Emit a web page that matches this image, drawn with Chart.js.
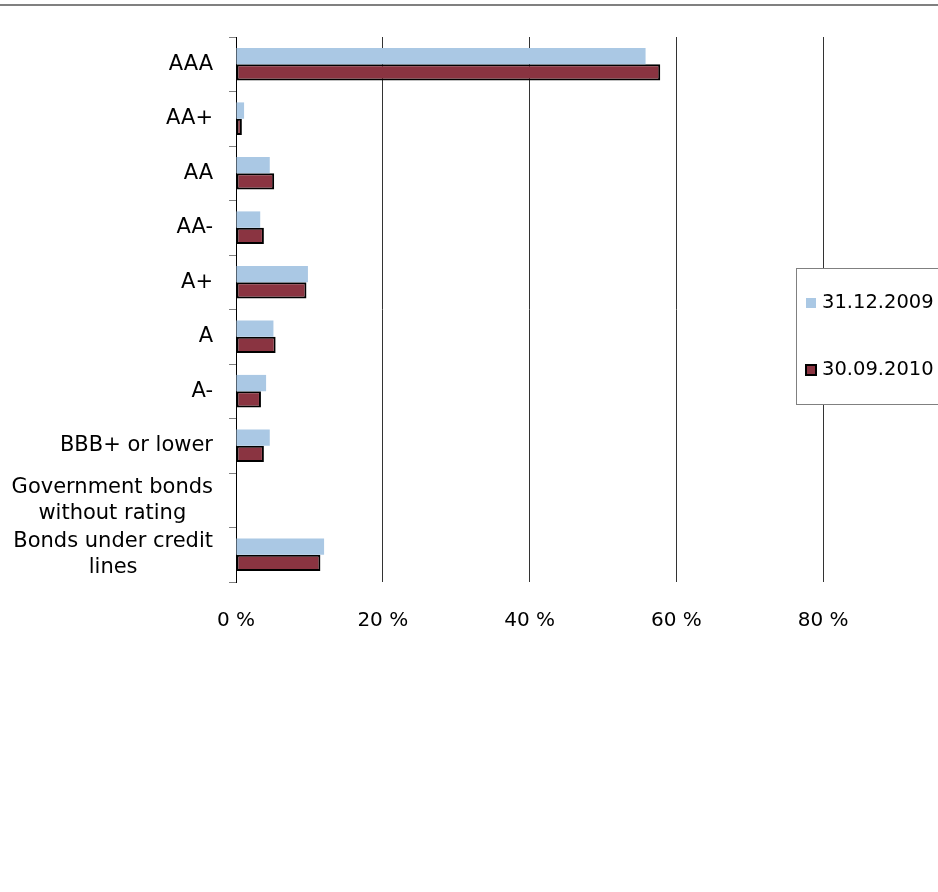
<!DOCTYPE html>
<html><head><meta charset="utf-8">
<script src="https://cdn.jsdelivr.net/npm/chart.js@4"></script>
<style>
html,body{margin:0;padding:0;background:#fff;overflow:hidden;width:938px;height:892px}
#wrap{position:relative;width:1100px;height:892px}
canvas{display:block}
</style>
</head><body><div id="wrap"><canvas id="c" width="1100" height="892"></canvas></div>
<script>
const categories = ['AAA', 'AA+', 'AA', 'AA-', 'A+', 'A', 'A-', 'BBB+ or lower',
  ['Government bonds', 'without rating'], ['Bonds under credit', 'lines']];
const seriesLabels = ['31.12.2009', '30.09.2010'];
const values2009 = [55.8, 1.1, 4.6, 3.3, 9.8, 5.1, 4.1, 4.6, 0, 12.0];
const values2010 = [57.8, 0.8, 5.2, 3.8, 9.6, 5.4, 3.4, 3.8, 0, 11.5];
const xTickStep = 20;
const xMin = 0, xMax = 100;

const bgPlugin = {
  id: 'bg',
  beforeDraw(chart) {
    const ctx = chart.ctx;
    ctx.save();
    ctx.fillStyle = '#fff';
    ctx.fillRect(0, 0, chart.width, chart.height);
    ctx.fillStyle = '#808080';
    ctx.fillRect(0, 4, chart.width, 2);
    ctx.restore();
  }
};

const yLabelPlugin = {
  id: 'yLabels',
  afterDraw(chart) {
    const s = chart.scales.y;
    const ctx = chart.ctx;
    ctx.save();
    ctx.font = '21px "DejaVu Sans"';
    ctx.fillStyle = '#000';
    ctx.textBaseline = 'middle';
    const right = s.right - 23;
    const lh = 26;
    s.ticks.forEach((t, i) => {
      const y = s.getPixelForTick(i);
      const lab = chart.data.labels[i];
      const lines = Array.isArray(lab) ? lab : [lab];
      const maxW = Math.max(...lines.map(l => ctx.measureText(l).width));
      const multi = lines.length > 1;
      ctx.textAlign = multi ? 'center' : 'right';
      lines.forEach((l, j) => {
        const ly = y + (j - (lines.length - 1) / 2) * lh;
        ctx.fillText(l, multi ? right - maxW / 2 : right, ly);
      });
    });
    ctx.restore();
  }
};

const legendPlugin = {
  id: 'boxLegend',
  afterDraw(chart) {
    const ctx = chart.ctx;
    ctx.save();
    ctx.fillStyle = '#fff';
    ctx.fillRect(796, 268, 300, 136);
    ctx.strokeStyle = '#808080';
    ctx.lineWidth = 1;
    ctx.strokeRect(796.5, 268.5, 300, 136);
    ctx.font = '19.5px "DejaVu Sans"';
    ctx.textBaseline = 'middle';
    ctx.textAlign = 'left';
    const ys = [303, 370];
    chart.data.datasets.forEach((ds, i) => {
      const y = ys[i];
      ctx.fillStyle = ds.backgroundColor;
      if (ds.borderWidth) {
        ctx.fillRect(805, y - 6, 12, 12);
        ctx.strokeStyle = ds.borderColor;
        ctx.lineWidth = 2;
        ctx.strokeRect(806, y - 5, 10, 10);
      } else {
        ctx.fillRect(806, y - 5, 10, 10);
      }
      ctx.fillStyle = '#000';
      ctx.fillText(ds.label, 822, y);
    });
    ctx.restore();
  }
};

new Chart(document.getElementById('c'), {
  type: 'bar',
  data: {
    labels: categories,
    datasets: [
      { label: seriesLabels[0], data: values2009, backgroundColor: '#AAC8E4', borderWidth: 0 },
      { label: seriesLabels[1], data: values2010, backgroundColor: '#8A3441', borderColor: '#000', borderWidth: 2, borderSkipped: false }
    ]
  },
  options: {
    indexAxis: 'y',
    responsive: false,
    animation: false,
    devicePixelRatio: 1,
    layout: { padding: { top: 37, left: 0, right: 130, bottom: 250 } },
    plugins: { legend: { display: false }, tooltip: { enabled: false } },
    datasets: { bar: { categoryPercentage: 0.6, barPercentage: 1 } },
    scales: {
      x: {
        min: xMin, max: xMax,
        ticks: { stepSize: xTickStep, callback: v => v + ' %', color: '#000',
                 font: { family: 'DejaVu Sans', size: 20 }, padding: 27, maxRotation: 0 },
        grid: { color: '#333', lineWidth: 1, drawTicks: false },
        border: { display: false },
        afterFit(s) { s.height = 60; }
      },
      y: {
        ticks: { display: false },
        grid: { drawOnChartArea: false, drawTicks: true, tickLength: 7, color: '#808080', offset: true },
        border: { display: true, color: '#000', width: 1 },
        afterFit(s) { s.width = 236; }
      }
    }
  },
  plugins: [bgPlugin, yLabelPlugin, legendPlugin]
});
</script>
</body></html>
